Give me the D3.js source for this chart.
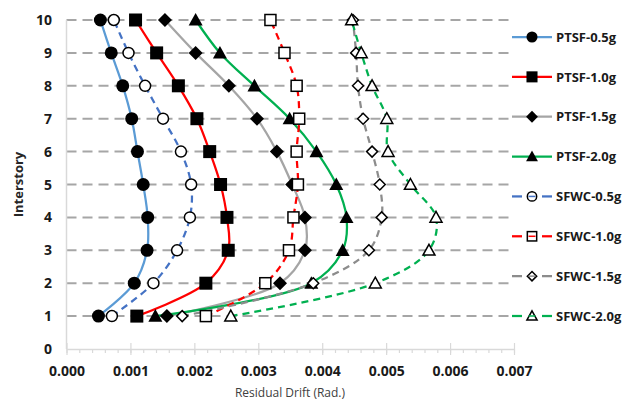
<!DOCTYPE html>
<html>
<head>
<meta charset="utf-8">
<script src="https://cdn.jsdelivr.net/npm/d3@7"></script>
<style>
  body { margin: 0; background: #fff; }
  text { font-family: "Open Sans", "Liberation Sans", sans-serif; }
</style>
</head>
<body>
<div id="chart"></div>
<script>
// interstory levels (y) and residual drift per series (x)
const stories = [1, 2, 3, 4, 5, 6, 7, 8, 9, 10];
const ptsf05 = [0.00050, 0.00106, 0.00126, 0.00127, 0.00120, 0.00111, 0.00102, 0.00088, 0.00070, 0.00053];
const ptsf10 = [0.00110, 0.00218, 0.00253, 0.00251, 0.00241, 0.00224, 0.00204, 0.00175, 0.00141, 0.00108];
const ptsf15 = [0.00157, 0.00334, 0.00373, 0.00373, 0.00353, 0.00329, 0.00298, 0.00254, 0.00202, 0.00154];
const ptsf20 = [0.00139, 0.00383, 0.00432, 0.00438, 0.00422, 0.00391, 0.00349, 0.00294, 0.00240, 0.00202];
const sfwc05 = [0.00071, 0.00136, 0.00173, 0.00193, 0.00195, 0.00179, 0.00151, 0.00123, 0.00097, 0.00074];
const sfwc10 = [0.00218, 0.00311, 0.00348, 0.00355, 0.00362, 0.00360, 0.00364, 0.00360, 0.00341, 0.00319];
const sfwc15 = [0.00181, 0.00386, 0.00473, 0.00493, 0.00490, 0.00478, 0.00464, 0.00456, 0.00453, 0.00448];
const sfwc20 = [0.00257, 0.00483, 0.00567, 0.00578, 0.00538, 0.00503, 0.00501, 0.00478, 0.00461, 0.00446];

const xTicks = [0, 0.001, 0.002, 0.003, 0.004, 0.005, 0.006, 0.007];
const yTicks = [0, 1, 2, 3, 4, 5, 6, 7, 8, 9, 10];

const series = [
  { name: "PTSF-0.5g", values: ptsf05, color: "#5b9bd5", dash: null, shape: "circle", open: false },
  { name: "PTSF-1.0g", values: ptsf10, color: "#ff0000", dash: null, shape: "square", open: false },
  { name: "PTSF-1.5g", values: ptsf15, color: "#a5a5a5", dash: null, shape: "diamond", open: false },
  { name: "PTSF-2.0g", values: ptsf20, color: "#00b050", dash: null, shape: "triangle", open: false },
  { name: "SFWC-0.5g", values: sfwc05, color: "#4472c4", dash: "7,5", shape: "circle", open: true },
  { name: "SFWC-1.0g", values: sfwc10, color: "#ff0000", dash: "7,5", shape: "square", open: true },
  { name: "SFWC-1.5g", values: sfwc15, color: "#8c8c8c", dash: "7,5", shape: "diamond", open: true },
  { name: "SFWC-2.0g", values: sfwc20, color: "#00b050", dash: "7,5", shape: "triangle", open: true }
];

const width = 636, height = 404;
const plotLeft = 66.5, plotRight = 514, plotTop = 20, plotBottom = 349;

const svg = d3.select("#chart").append("svg")
  .attr("width", width)
  .attr("height", height);

const x = d3.scaleLinear().domain([0, 0.007]).range([plotLeft, plotRight]);
const y = d3.scaleLinear().domain([0, 10]).range([plotBottom, plotTop]);

// dashed horizontal gridlines
svg.append("g")
  .selectAll("line")
  .data(yTicks.filter(d => d > 0))
  .enter().append("line")
  .attr("x1", plotLeft).attr("x2", plotRight)
  .attr("y1", d => y(d)).attr("y2", d => y(d))
  .attr("stroke", "#a6a6a6")
  .attr("stroke-width", 2)
  .attr("stroke-dasharray", "10,6");

// y axis line
svg.append("line")
  .attr("x1", plotLeft).attr("x2", plotLeft)
  .attr("y1", y(10)).attr("y2", plotBottom)
  .attr("stroke", "#d9d9d9").attr("stroke-width", 1.5);

// x axis with major + minor ticks
const xAxis = svg.append("g").attr("transform", `translate(0,${plotBottom})`);
xAxis.append("g")
  .call(d3.axisBottom(x).tickValues(d3.range(0, 36).map(i => i * 0.0002)).tickSize(4).tickFormat(""))
  .call(g => g.select(".domain").remove())
  .call(g => g.selectAll("line").attr("stroke", "#d9d9d9").attr("stroke-width", 1.2));
xAxis.append("g")
  .call(d3.axisBottom(x).tickValues(xTicks).tickSize(6).tickSizeOuter(0).tickFormat(d3.format(".3f")))
  .call(g => g.select(".domain").attr("stroke", "#d9d9d9").attr("stroke-width", 1.5))
  .call(g => g.selectAll(".tick line").attr("stroke", "#d9d9d9").attr("stroke-width", 1.2).attr("y1", -6))
  .call(g => g.selectAll("text")
    .attr("y", 17)
    .attr("fill", "#1a1a1a")
    .style("font-size", "14px")
    .style("font-weight", "bold"));

// y tick labels
svg.append("g")
  .selectAll("text")
  .data(yTicks)
  .enter().append("text")
  .attr("x", 52)
  .attr("y", d => y(d))
  .attr("dy", "0.36em")
  .attr("text-anchor", "end")
  .attr("fill", "#1a1a1a")
  .style("font-size", "14px")
  .style("font-weight", "bold")
  .text(d => d);

// axis titles
svg.append("text")
  .attr("transform", `translate(23,${(plotTop + plotBottom) / 2}) rotate(-90)`)
  .attr("text-anchor", "middle")
  .attr("fill", "#262626")
  .style("font-size", "13px")
  .style("font-weight", "bold")
  .text("Interstory");

svg.append("text")
  .attr("x", 290)
  .attr("y", 397)
  .attr("text-anchor", "middle")
  .attr("fill", "#404040")
  .style("font-size", "12px")
  .text("Residual Drift (Rad.)");

const line = d3.line()
  .x(d => x(d[0]))
  .y(d => y(d[1]))
  .curve(d3.curveCatmullRom.alpha(0.5));

function marker(g, s, big) {
  const k = big ? 1 : 0.85;
  const fill = s.open ? "#fff" : "#000";
  const sw = s.open ? 1.5 : 0;
  let el;
  if (s.shape === "circle") {
    el = g.append("circle").attr("r", (s.open ? 5.5 : 6.5) * k);
  } else if (s.shape === "square") {
    const h = (s.open ? 5.5 : 6.5) * k;
    el = g.append("rect").attr("x", -h).attr("y", -h).attr("width", 2 * h).attr("height", 2 * h);
  } else if (s.shape === "diamond") {
    const h = (s.open ? 5.5 : 7) * k;
    el = g.append("path").attr("d", `M0,${-h}L${h},0L0,${h}L${-h},0Z`);
  } else {
    const h = (s.open ? 6 : 7) * k;
    el = g.append("path").attr("d", `M0,${-h}L${h},${h * 0.8}L${-h},${h * 0.8}Z`);
  }
  el.attr("fill", fill).attr("stroke", "#000").attr("stroke-width", sw);
}

// lines
series.forEach(s => {
  const pts = stories.map((st, i) => [s.values[i], st]);
  svg.append("path")
    .datum(pts)
    .attr("d", line)
    .attr("fill", "none")
    .attr("stroke", s.color)
    .attr("stroke-width", 2.25)
    .attr("stroke-dasharray", s.dash);
});

// markers
series.forEach(s => {
  const g = svg.append("g");
  stories.forEach((st, i) => {
    const m = g.append("g").attr("transform", `translate(${x(s.values[i])},${y(st)})`);
    marker(m, s, true);
  });
});

// legend
const legendY = d3.scalePoint().domain(series.map(s => s.name)).range([37, 316]);
const legend = svg.append("g");
series.forEach(s => {
  const ly = legendY(s.name);
  const item = legend.append("g").attr("transform", `translate(0,${ly})`);
  if (s.dash) {
    item.append("line").attr("x1", 512).attr("x2", 522).attr("stroke", s.color).attr("stroke-width", 2.25);
    item.append("line").attr("x1", 542).attr("x2", 552).attr("stroke", s.color).attr("stroke-width", 2.25);
  } else {
    item.append("line").attr("x1", 512).attr("x2", 552).attr("stroke", s.color).attr("stroke-width", 2.25);
  }
  const m = item.append("g").attr("transform", "translate(532,0)");
  marker(m, s, false);
  if (s.open) {
    // dash segment showing through the hollow legend marker
    m.append("line").attr("x1", -3.5).attr("x2", 3.5).attr("stroke", s.color).attr("stroke-width", 1.5);
  }
  item.append("text")
    .attr("x", 556)
    .attr("dy", "0.36em")
    .attr("fill", "#1a1a1a")
    .style("font-size", "13px")
    .style("font-weight", "bold")
    .text(s.name);
});
</script>
</body>
</html>
